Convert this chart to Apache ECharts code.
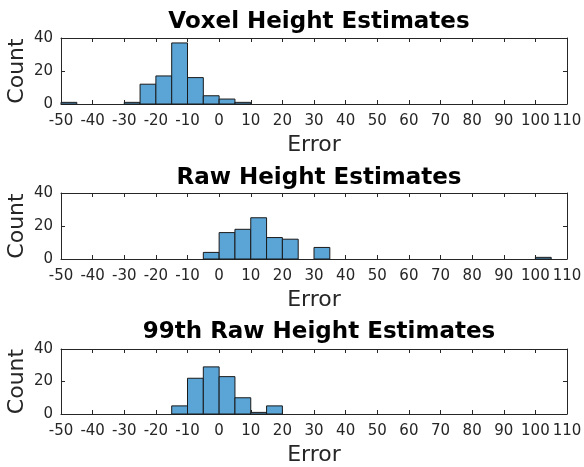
<!DOCTYPE html>
<html>
<head>
<meta charset="utf-8">
<script src="https://cdn.jsdelivr.net/npm/echarts@6/dist/echarts.min.js"></script>
<style>
html,body{margin:0;padding:0;background:#fff;}
#chart{width:584px;height:467px;}
</style>
</head>
<body>
<div id="chart"></div>
<script>
// Panel titles
const titles = ['Voxel Height Estimates', 'Raw Height Estimates', '99th Raw Height Estimates'];
const xTicks = { min: -50, max: 110, interval: 10 };
const yTicks = { min: 0, max: 40, interval: 20 };
const binWidth = 5;

// Histogram bins (left edge) and counts per panel
const voxelBinStarts = [-50, -30, -25, -20, -15, -10, -5, 0, 5];
const voxelCounts    = [1, 1, 12, 17, 37, 16, 5, 3, 1];

const rawBinStarts = [-5, 0, 5, 10, 15, 20, 30, 100];
const rawCounts    = [4, 16, 18, 25, 13, 12, 7, 1];

const p99BinStarts = [-15, -10, -5, 0, 5, 10, 15];
const p99Counts    = [5, 22, 29, 23, 10, 1, 5];

const panels = [
  { starts: voxelBinStarts, counts: voxelCounts, top: 38, height: 66, titleTop: 6 },
  { starts: rawBinStarts, counts: rawCounts, top: 193, height: 66, titleTop: 162 },
  { starts: p99BinStarts, counts: p99Counts, top: 349, height: 65, titleTop: 316 }
];

const FONT = 'DejaVu Sans';
const AX = '#262626';
const BAR = '#5aa4d6';

const chart = echarts.init(document.getElementById('chart'), null, { renderer: 'canvas' });

const grid = [], xAxis = [], yAxis = [], series = [], title = [];
panels.forEach((p, i) => {
  grid.push({ left: 61, right: 17, top: p.top, height: p.height, containLabel: false, outerBoundsMode: 'none' });
  title.push({
    text: titles[i], left: 314, top: p.titleTop, textAlign: 'center',
    textStyle: { fontFamily: FONT, fontWeight: 'bold', fontSize: 23, color: '#000' }
  });
  // bottom x axis
  xAxis.push({
    type: 'value', gridIndex: i, position: 'bottom', min: xTicks.min, max: xTicks.max, interval: xTicks.interval,
    name: 'Error', nameLocation: 'middle', nameGap: 30, nameMoveOverlap: false,
    nameTextStyle: { fontFamily: FONT, fontSize: 22, color: AX },
    axisLine: { show: true, onZero: false, lineStyle: { color: AX, width: 1 } },
    axisTick: { show: true, inside: true, length: 4, lineStyle: { color: AX } },
    axisLabel: { show: true, margin: 10, fontFamily: FONT, fontSize: 15, color: AX, showMinLabel: true, showMaxLabel: true, hideOverlap: false },
    splitLine: { show: false }
  });
  // top mirrored x axis
  xAxis.push({
    type: 'value', gridIndex: i, position: 'top', min: xTicks.min, max: xTicks.max, interval: xTicks.interval,
    axisLine: { show: true, onZero: false, lineStyle: { color: AX, width: 1 } },
    axisTick: { show: true, inside: true, length: 4, lineStyle: { color: AX } },
    axisLabel: { show: false },
    splitLine: { show: false }
  });
  // left y axis
  yAxis.push({
    type: 'value', gridIndex: i, position: 'left', min: yTicks.min, max: yTicks.max, interval: yTicks.interval,
    name: 'Count', nameLocation: 'middle', nameGap: 33, nameMoveOverlap: false,
    nameTextStyle: { fontFamily: FONT, fontSize: 22, color: AX },
    axisLine: { show: true, onZero: false, lineStyle: { color: AX, width: 1 } },
    axisTick: { show: true, inside: true, length: 4, lineStyle: { color: AX } },
    axisLabel: { show: true, margin: 8, fontFamily: FONT, fontSize: 15, color: AX },
    splitLine: { show: false }
  });
  // right mirrored y axis
  yAxis.push({
    type: 'value', gridIndex: i, position: 'right', min: yTicks.min, max: yTicks.max, interval: yTicks.interval,
    axisLine: { show: true, onZero: false, lineStyle: { color: AX, width: 1 } },
    axisTick: { show: true, inside: true, length: 4, lineStyle: { color: AX } },
    axisLabel: { show: false },
    splitLine: { show: false }
  });
  const data = p.starts.map((s, k) => [s, s + binWidth, p.counts[k]]);
  series.push({
    type: 'custom',
    xAxisIndex: i * 2,
    yAxisIndex: i * 2,
    data: data,
    encode: { x: [0, 1], y: 2 },
    renderItem: function (params, api) {
      const a = api.coord([api.value(0), api.value(2)]);
      const b = api.coord([api.value(1), 0]);
      return {
        type: 'rect',
        shape: { x: a[0], y: a[1], width: b[0] - a[0], height: b[1] - a[1] },
        style: { fill: BAR, stroke: '#1a1a1a', lineWidth: 1 }
      };
    },
    z: 1
  });
});

chart.setOption({
  animation: false,
  backgroundColor: '#fff',
  title: title,
  grid: grid,
  xAxis: xAxis,
  yAxis: yAxis,
  series: series
});
</script>
</body>
</html>
